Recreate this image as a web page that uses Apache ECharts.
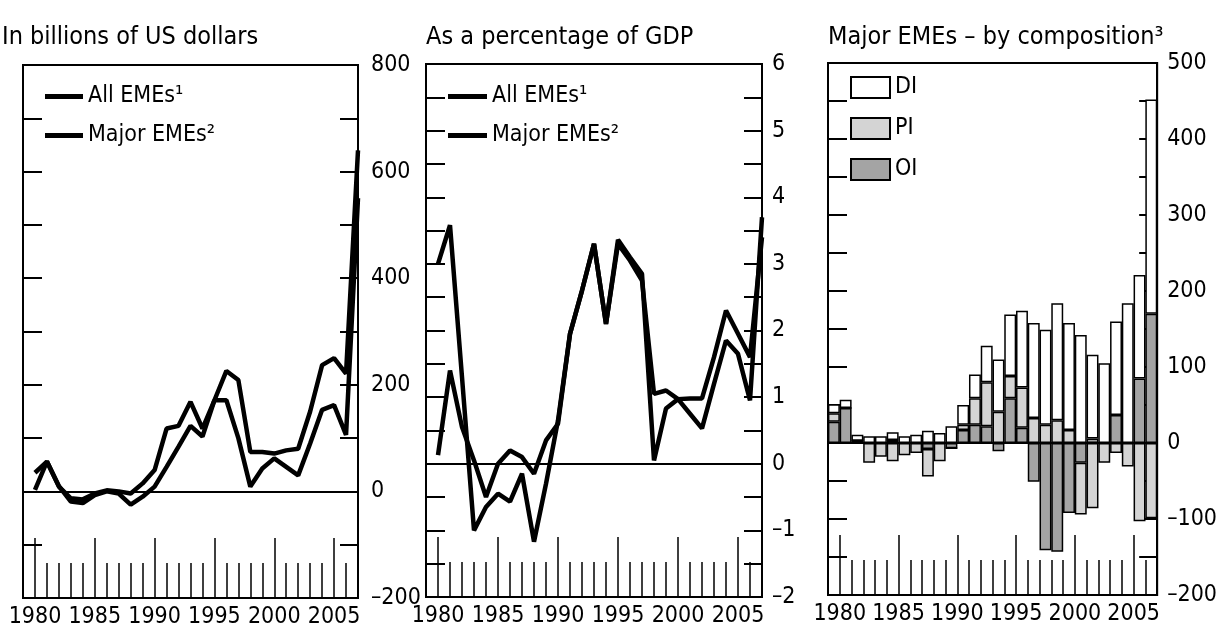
<!DOCTYPE html>
<html><head><meta charset="utf-8">
<script src="https://cdn.jsdelivr.net/npm/echarts@6/dist/echarts.min.js"></script>
<style>html,body{margin:0;padding:0;background:#fff}#c{width:1220px;height:631px}</style>
</head><body><div id="c"></div>
<script>
// ---- data ----
const years = [1980,1981,1982,1983,1984,1985,1986,1987,1988,1989,1990,1991,1992,1993,1994,1995,1996,1997,1998,1999,2000,2001,2002,2003,2004,2005,2006,2007];
const tickYears = ['1979','1980','1981','1982','1983','1984','1985','1986','1987','1988','1989','1990','1991','1992','1993','1994','1995','1996','1997','1998','1999','2000','2001','2002','2003','2004','2005','2006','2007'];
const titles = ['In billions of US dollars', 'As a percentage of GDP', 'Major EMEs \u2013 by composition\u00b3'];
const lineNames = ['All EMEs\u00b9', 'Major EMEs\u00b2'];
// Panel 1: billions of US dollars
const allUsd   = [3, 56, 9, -13, -15, -4, 2, 0, -4, 15, 40, 118, 123, 168, 118, 171, 226, 209, 74, 74, 71, 77, 80, 150, 237, 250, 221, 640];
const majorUsd = [35, 56, 10, -19, -22, -7, 0, -4, -25, -10, 9, 46, 84, 123, 103, 171, 171, 100, 9, 43, 62, 46, 30, 90, 153, 162, 106, 550];
// Panel 2: percentage of GDP
const allGdp   = [0.13, 1.4, 0.55, 0.05, -0.5, 0.0, 0.2, 0.1, -0.15, 0.35, 0.6, 1.95, 2.6, 3.3, 2.1, 3.3, 3.05, 2.75, 1.05, 1.1, 0.97, 0.98, 0.98, 1.6, 2.3, 1.95, 1.6, 3.4];
const majorGdp = [3.0, 3.58, 1.3, -1.0, -0.65, -0.45, -0.57, -0.15, -1.17, -0.3, 0.65, 1.95, 2.6, 3.3, 2.1, 3.36, 3.1, 2.85, 0.05, 0.83, 0.97, 0.75, 0.53, 1.2, 1.85, 1.65, 0.95, 3.7];
// Panel 3: composition (billions of US dollars)
const barNames = ['DI', 'PI', 'OI'];
const diVals = [12, 11, 8, 9, 9, 10, 9, 11, 16, 13, 22, 26, 31, 48, 69, 81, 101, 125, 125, 154, 141, 142, 110, 105, 123, 184, 136, 282];
const piVals = [11, 0, 0, -26, -18, -24, -16, -13, -36, -24, 0, 7, 35, 58, 41, 29, 53, 33, 24, 30, 17, -68, -86, -26, -13, -31, -103, -99];
const oiVals = [28, 46, 3, 0, 0, 4, 0, 0, -8, 0, -7, 17, 24, 22, -11, 59, 20, -51, -141, -143, -92, -26, 6, 0, 37, 0, 85, 170];

// ---- styling ----
const FONT = "'Liberation Sans Narrow','Arial Narrow','DejaVu Sans Condensed',sans-serif";
const fmt = v => v < 0 ? '\u2013' + (-v) : String(v);
const grids = [
  {left: 23, top: 65, width: 335, height: 533},
  {left: 426, top: 64, width: 336, height: 533},
  {left: 828, top: 63, width: 334, height: 532}
];
const yCfg = [
  {min: -200, max: 800, interval: 100, lab: v => v % 200 === 0 ? fmt(v) : '', margin: 13},
  {min: -2, max: 6, interval: 0.5, lab: v => Number.isInteger(v) ? fmt(v) : '', margin: 10},
  {min: -200, max: 500, interval: 50, lab: v => v % 100 === 0 ? fmt(v) : '', margin: 10}
];

const xAxis = [], yAxis = [];
grids.forEach((g, gi) => {
  // minor yearly ticks (also used by line series)
  xAxis.push({type: 'category', gridIndex: gi, data: tickYears, boundaryGap: false, position: 'bottom',
    axisLine: {show: false, onZero: false}, axisLabel: {show: false}, splitLine: {show: false},
    axisTick: {inside: true, length: 35, interval: 0, lineStyle: {color: '#000', width: 1.5}}});
  // major 5-year ticks and labels
  xAxis.push({type: 'category', gridIndex: gi, data: tickYears, boundaryGap: false, position: 'bottom',
    axisLine: {show: false, onZero: false}, splitLine: {show: false},
    axisTick: {inside: true, length: 60, interval: (i, v) => (+v) % 5 === 0, lineStyle: {color: '#000', width: 1.5}},
    axisLabel: {interval: (i, v) => (+v) % 5 === 0, fontSize: 23, color: '#000', fontFamily: FONT, margin: 8}});
  const c = yCfg[gi];
  yAxis.push({type: 'value', gridIndex: gi, position: 'left', min: c.min, max: c.max, interval: c.interval,
    axisLine: {show: true, onZero: false, lineStyle: {color: '#000', width: 2}}, splitLine: {show: false},
    axisTick: {show: true, inside: true, length: 19, lineStyle: {color: '#000', width: 2}},
    axisLabel: {show: false}});
  yAxis.push({type: 'value', gridIndex: gi, position: 'right', min: c.min, max: c.max, interval: c.interval,
    axisLine: {show: true, onZero: false, lineStyle: {color: '#000', width: 2}}, splitLine: {show: false},
    axisTick: {show: true, inside: true, length: 18, lineStyle: {color: '#000', width: 2}},
    axisLabel: {formatter: c.lab, fontSize: 23, color: '#000', fontFamily: FONT, margin: c.margin}});
});
// category axis for bars (index 6)
xAxis.push({type: 'category', gridIndex: 2, data: years.map(String), boundaryGap: true, position: 'bottom',
  axisLine: {show: false, onZero: false}, axisTick: {show: false}, axisLabel: {show: false}, splitLine: {show: false}});

const zeroLine = {silent: true, symbol: 'none', label: {show: false},
  lineStyle: {color: '#000', width: 2, type: 'solid'}, data: [{yAxis: 0}]};
const pairs = vals => years.map((y, i) => [String(y), vals[i]]);
const lineSeries = (name, vals, gi, withZero) => ({
  type: 'line', name, xAxisIndex: gi * 2, yAxisIndex: gi * 2, data: pairs(vals),
  symbol: 'none', lineStyle: {color: '#000', width: 4.5}, itemStyle: {color: '#000'},
  markLine: withZero ? zeroLine : undefined, z: 3
});
const bandW = grids[2].width / years.length;
const barSeries = (name, vals, color, withZero) => ({
  type: 'bar', name, xAxisIndex: 6, yAxisIndex: 4, data: vals, stack: 'comp', stackStrategy: 'samesign',
  barWidth: bandW, barGap: '0%',
  itemStyle: {color, borderColor: '#000', borderWidth: 1.5},
  markLine: withZero ? zeroLine : undefined
});

const series = [
  lineSeries(lineNames[0], allUsd, 0, true),
  lineSeries(lineNames[1], majorUsd, 0, false),
  lineSeries(lineNames[0], allGdp, 1, true),
  lineSeries(lineNames[1], majorGdp, 1, false),
  barSeries(barNames[2], oiVals, '#a4a4a4', false),
  barSeries(barNames[1], piVals, '#d4d4d4', false),
  barSeries(barNames[0], diVals, '#ffffff', true)
];

const titleLeft = [2, 426, 828];
const title = titles.map((t, i) => ({text: t, left: titleLeft[i], top: 22, padding: 0,
  textStyle: {fontSize: 25, fontWeight: 'normal', color: '#000', fontFamily: FONT, lineHeight: 30}}));

const legText = {fontSize: 23, color: '#000', fontFamily: FONT};
const legend = [
  {data: lineNames, left: 45, top: 85, orient: 'vertical', icon: 'rect', itemWidth: 38, itemHeight: 5, itemGap: 16, padding: 0, textStyle: legText, selectedMode: false},
  {data: lineNames, left: 448, top: 85, orient: 'vertical', icon: 'rect', itemWidth: 39, itemHeight: 5, itemGap: 16, padding: 0, textStyle: legText, selectedMode: false},
  {data: barNames, left: 850, top: 76, orient: 'vertical', icon: 'rect', itemWidth: 39, itemHeight: 21, itemGap: 18, padding: 0, textStyle: legText, selectedMode: false}
];

const chart = echarts.init(document.getElementById('c'), null, {renderer: 'canvas'});
chart.setOption({
  animation: false,
  backgroundColor: '#fff',
  title, legend,
  grid: grids.map(g => Object.assign({show: true, borderColor: '#000', borderWidth: 2, backgroundColor: 'transparent'}, g)),
  xAxis, yAxis, series
});
</script>
</body></html>
